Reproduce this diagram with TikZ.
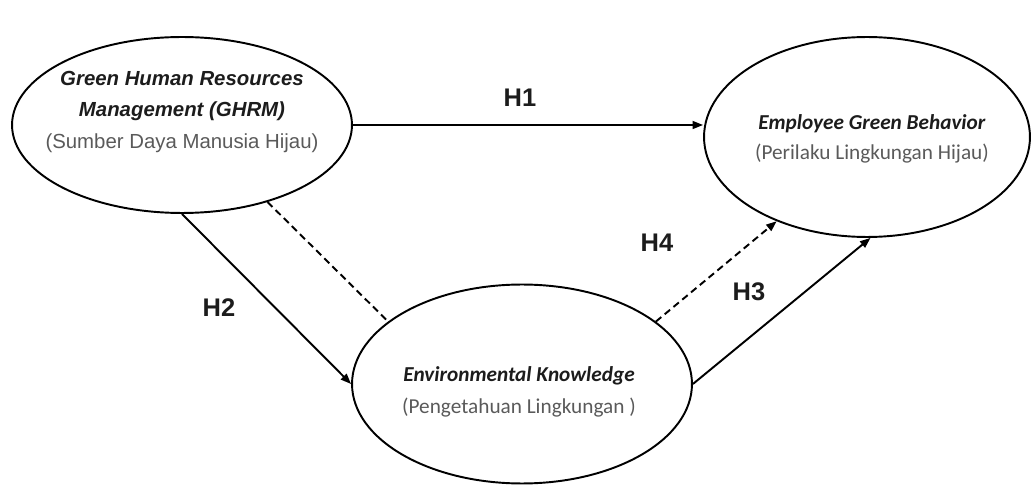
\documentclass[tikz,border=0pt]{standalone}
\usepackage{fontspec}
\usepackage{xcolor}
\usetikzlibrary{arrows.meta}
\usetikzlibrary{shapes.geometric}
\newfontfamily\arialfont{Liberation Sans}
\newfontfamily\calibrifont{Carlito}
\definecolor{subgray}{HTML}{5A5A5A}
\definecolor{titleblack}{HTML}{1C1C1C}

\begin{document}
\begin{tikzpicture}[x=0.02cm,y=-0.02cm,
    every node/.style={titleblack},
    construct/.style={draw=black,ellipse,line width=1.1pt,inner sep=0pt},
    path arrow/.style={line width=1.1pt,-{Triangle[length=6pt,width=4.5pt]}},
    dashed link/.style={line width=1.1pt,dash pattern=on 4pt off 2.5pt},
    hyp/.style={font=\arialfont\bfseries\fontsize{14.5}{17}\selectfont},
    ghrmtext/.style={align=center,font=\arialfont\fontsize{11.6}{18}\selectfont},
    cbtext/.style={align=center,font=\calibrifont\fontsize{12.1}{16.8}\selectfont}]
    \useasboundingbox (0,0) rectangle (1032,486);

    % constructs
    \node[construct,minimum width=6.8cm,minimum height=3.52cm] (ghrm) at (182,125) {};
    \node[construct,minimum width=6.52cm,minimum height=4cm] (egb) at (867,137) {};
    \node[construct,minimum width=6.8cm,minimum height=3.98cm] (ek) at (522,384) {};

    \node[ghrmtext] (ghrmlabel) at (182,112)
    {\textbf{\textit{Green Human Resources}}\\
     \textbf{\textit{Management (GHRM)}}\\
     \textcolor{subgray}{(Sumber Daya Manusia Hijau)}};
    \node[cbtext] (egblabel) at (872,139)
    {\textbf{\textit{Employee Green Behavior}}\\
     \textcolor{subgray}{(Perilaku Lingkungan Hijau)}};
    \node[cbtext,font=\calibrifont\fontsize{12.1}{18}\selectfont] (eklabel) at (519,392)
    {\textbf{\textit{Environmental Knowledge}}\\
     \textcolor{subgray}{(Pengetahuan Lingkungan )}};

    % paths
    \draw[path arrow] (ghrm.east) -- (egb.west |- ghrm.east);
    \draw[path arrow] (ghrm.south) -- (ek.west);
    \draw[dashed link] (ghrm.-42) -- (ek.155);
    \draw[path arrow,dashed link] (ek.25) -- (egb.-137);
    \draw[path arrow] (ek.east) -- (egb.-88);

    \node[hyp] (h1) at (520,98) {H1};
    \node[hyp] (h2) at (219,308) {H2};
    \node[hyp] (h3) at (749,292) {H3};
    \node[hyp] (h4) at (657,243) {H4};
\end{tikzpicture}
\end{document}
